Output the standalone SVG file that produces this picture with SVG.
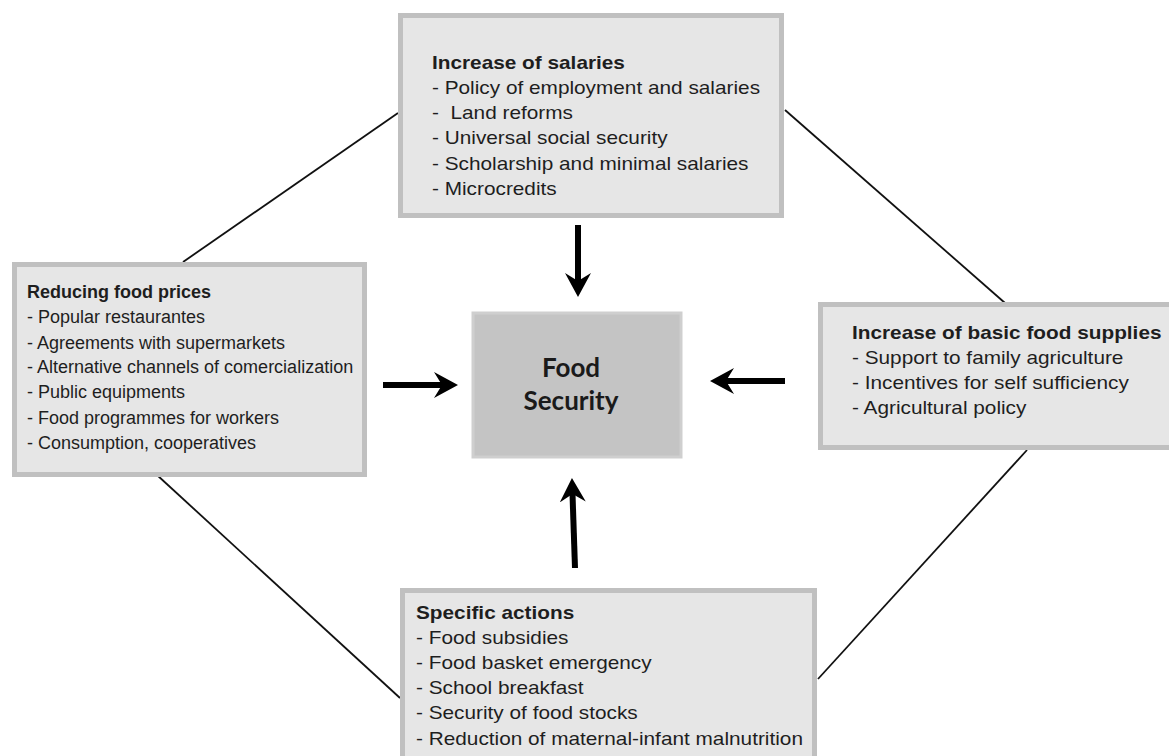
<svg xmlns="http://www.w3.org/2000/svg" width="1169" height="756" viewBox="0 0 1169 756">
  <style>
    .box { fill: #e6e6e6; stroke: #c0c0c0; stroke-width: 5; }
    .core { fill: #c4c4c4; stroke: #cfcfcf; stroke-width: 3; }
    .t { font-family: "Liberation Sans", Arial, sans-serif; font-size: 18px; fill: #1e1e1e; }
    .h { font-weight: bold; }
    .fs { font-family: Lato, "Open Sans", sans-serif; font-weight: bold; font-size: 26px; fill: #1a1a1a; text-anchor: middle; }
    .link { stroke: #111; stroke-width: 1.8; fill: none; }
    .arr { stroke: #000; stroke-width: 6; fill: none; marker-end: url(#head); }
  </style>
  <defs>
    <marker id="head" markerUnits="userSpaceOnUse" markerWidth="24" markerHeight="26" viewBox="0 0 24 26" refX="8" refY="13" orient="auto">
      <path d="M0,0 L24,13 L0,26 L8,13 z" fill="#000"/>
    </marker>
  </defs>
  <rect width="1169" height="756" fill="#ffffff"/>

  <g id="connectors">
    <line class="link" x1="183" y1="262" x2="398" y2="113"/>
    <line class="link" x1="785" y1="110" x2="1005" y2="303"/>
    <line class="link" x1="157" y1="475" x2="400" y2="698"/>
    <line class="link" x1="1027" y1="450" x2="818" y2="679"/>
    <line class="arr" x1="578" y1="225" x2="578" y2="281"/>
    <line class="arr" x1="383" y1="385" x2="442" y2="385"/>
    <line class="arr" x1="785" y1="381" x2="726" y2="381"/>
    <line class="arr" x1="575" y1="568" x2="572.5" y2="494"/>
  </g>

  <g id="salaries">
    <rect class="box" x="400.5" y="15.5" width="381" height="200"/>
    <g transform="translate(432,0) scale(1.155,1)">
      <text class="t h" x="0" y="69">Increase of salaries</text>
      <text class="t" x="0" y="94">- Policy of employment and salaries</text>
      <text class="t" x="0" y="119" xml:space="preserve">-  Land reforms</text>
      <text class="t" x="0" y="144">- Universal social security</text>
      <text class="t" x="0" y="170">- Scholarship and minimal salaries</text>
      <text class="t" x="0" y="195">- Microcredits</text>
    </g>
  </g>

  <g id="prices">
    <rect class="box" x="14.5" y="264.5" width="350" height="210"/>
    <text class="t h" x="27" y="298">Reducing food prices</text>
    <text class="t" x="27" y="323">- Popular restaurantes</text>
    <text class="t" x="27" y="349">- Agreements with supermarkets</text>
    <text class="t" x="27" y="373">- Alternative channels of comercialization</text>
    <text class="t" x="27" y="398">- Public equipments</text>
    <text class="t" x="27" y="424">- Food programmes for workers</text>
    <text class="t" x="27" y="449">- Consumption, cooperatives</text>
  </g>

  <g id="supplies">
    <rect class="box" x="820.5" y="304.5" width="360" height="143"/>
    <g transform="translate(852,0) scale(1.155,1)">
      <text class="t h" x="0" y="339">Increase of basic food supplies</text>
      <text class="t" x="0" y="364">- Support to family agriculture</text>
      <text class="t" x="0" y="389">- Incentives for self sufficiency</text>
      <text class="t" x="0" y="414">- Agricultural policy</text>
    </g>
  </g>

  <g id="actions">
    <rect class="box" x="402.5" y="590.5" width="412" height="180"/>
    <g transform="translate(416,0) scale(1.155,1)">
      <text class="t h" x="0" y="619">Specific actions</text>
      <text class="t" x="0" y="644">- Food subsidies</text>
      <text class="t" x="0" y="669">- Food basket emergency</text>
      <text class="t" x="0" y="694">- School breakfast</text>
      <text class="t" x="0" y="719">- Security of food stocks</text>
      <text class="t" x="0" y="745">- Reduction of maternal-infant malnutrition</text>
    </g>
  </g>

  <g id="food-security">
    <rect class="core" x="473" y="313" width="208" height="144"/>
    <text class="fs" x="571" y="377">Food</text>
    <text class="fs" x="571" y="410">Security</text>
  </g>
</svg>
